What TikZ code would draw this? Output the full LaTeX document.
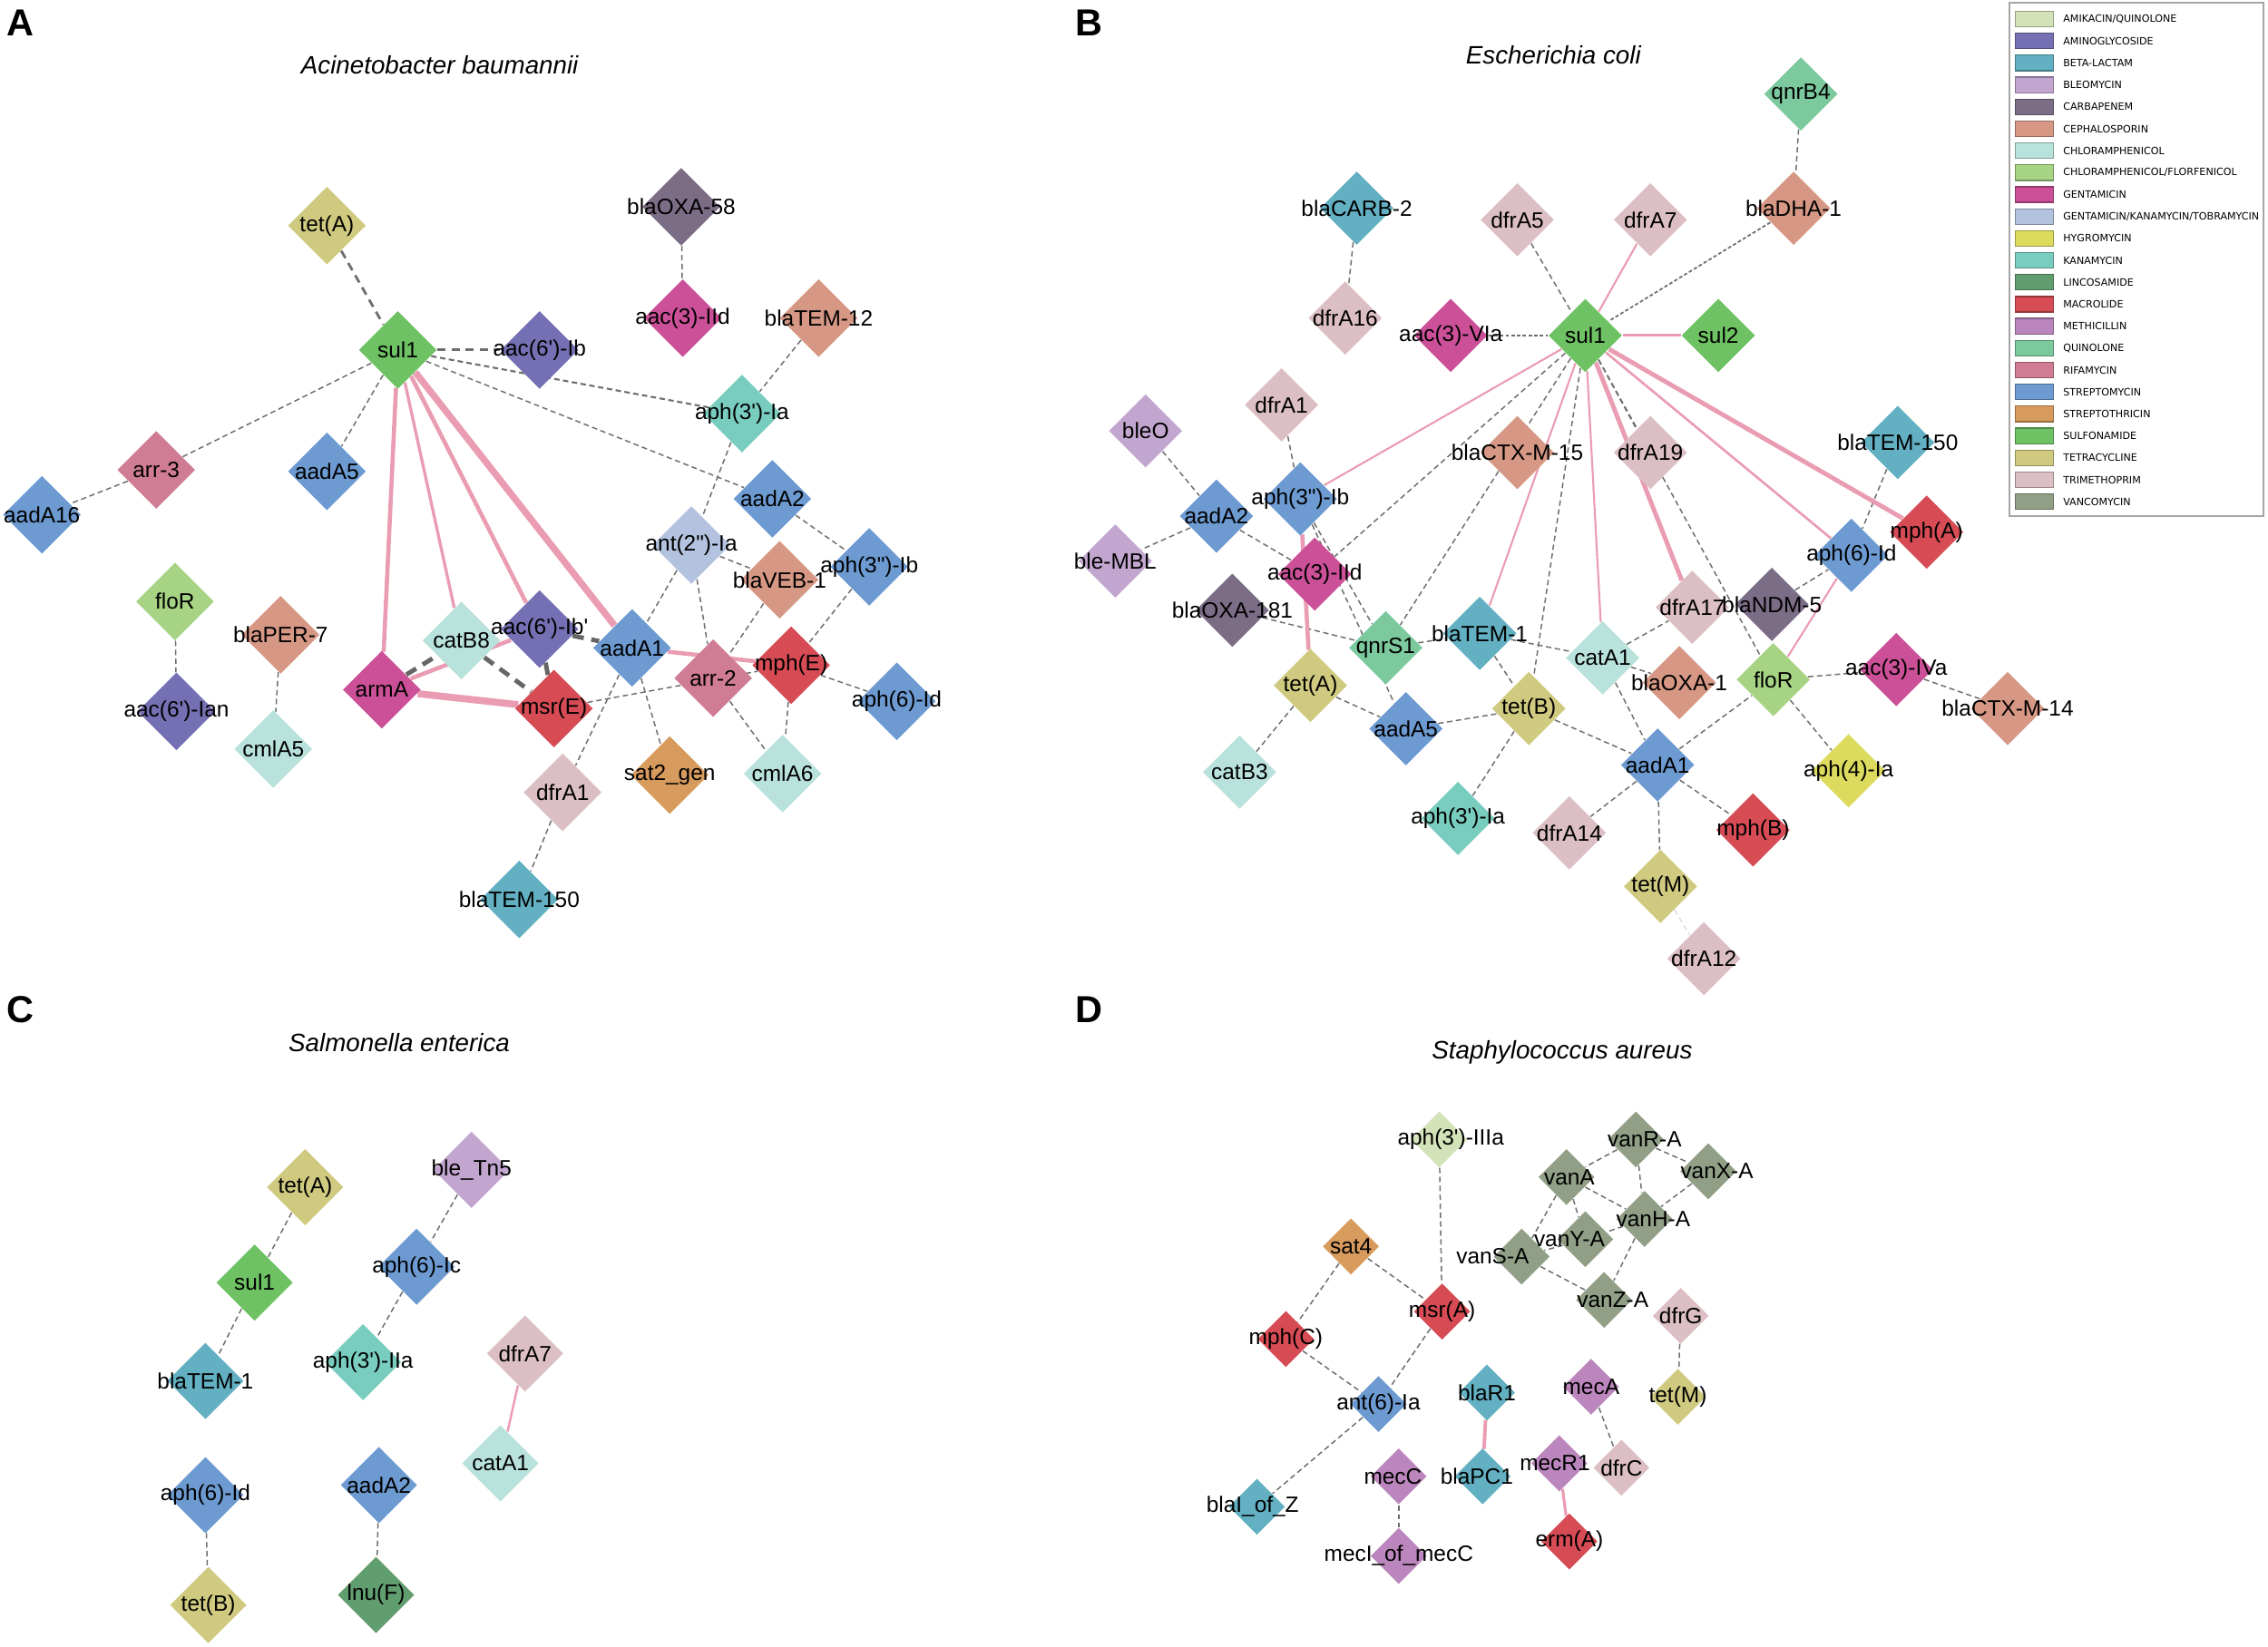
\documentclass[tikz,border=0pt]{standalone}
\usepackage{fontspec}
\setmainfont{Liberation Sans}
\newfontfamily\labfam{Liberation Sans}
\newfontfamily\legfam{DejaVu Sans}
\usetikzlibrary{shapes.geometric}
\pgfdeclarelayer{bg}
\pgfdeclarelayer{fg}
\pgfsetlayers{bg,main,fg}
\definecolor{AMIKQ}{HTML}{D3E2B8}
\definecolor{AMINO}{HTML}{7570B3}
\definecolor{BETA}{HTML}{62B0C2}
\definecolor{BLEO}{HTML}{C3A6D0}
\definecolor{CARB}{HTML}{7B6D86}
\definecolor{CEPH}{HTML}{D69885}
\definecolor{CHLOR}{HTML}{B8E2DB}
\definecolor{CHLFLOR}{HTML}{A6D384}
\definecolor{GENT}{HTML}{CC5098}
\definecolor{GKT}{HTML}{B3C2DE}
\definecolor{HYG}{HTML}{DCDB5E}
\definecolor{KANA}{HTML}{79CDBF}
\definecolor{LINC}{HTML}{619E6F}
\definecolor{MACRO}{HTML}{D64B54}
\definecolor{METH}{HTML}{BB86BD}
\definecolor{QUIN}{HTML}{7BC99C}
\definecolor{RIF}{HTML}{CF7C94}
\definecolor{STREP}{HTML}{6C9AD1}
\definecolor{STRTH}{HTML}{D89B5E}
\definecolor{SULF}{HTML}{6EC264}
\definecolor{TET}{HTML}{CFCA7F}
\definecolor{TRI}{HTML}{DCBFC4}
\definecolor{VANC}{HTML}{919F87}
\definecolor{dgray}{HTML}{6E6E6E}
\definecolor{pinkc}{HTML}{EA9CB2}
\newlength\labw
\newcommand\labfont{\labfam\fontsize{6.95pt}{8pt}\selectfont}
\newcommand\gn[7]{%
  \node[#1, fill=#5] (#2) at (#3,#4) {};%
  \settowidth\labw{\labfont #6}%
  \begin{pgfonlayer}{fg}%
    \node[lab, xshift={0.14*\labw+(#7)*0.015944cm}] (#2-l) at (#2.center) {#6};%
  \end{pgfonlayer}}
\newcommand\legent[3]{%
  \node[legsw, fill=#2, draw=#2!70!black] (leg#1) at (1406.5,{13.2+15.17*#1}) {};%
  \node[legtx] (legt#1) at (1426,{13.2+15.17*#1}) {#3};}
\begin{document}
\begin{tikzpicture}[x=0.015944cm, y=-0.015944cm,
  diaA/.style={diamond, minimum width=0.861cm, minimum height=0.861cm, inner sep=0pt, draw=none},
  diaB/.style={diamond, minimum width=0.813cm, minimum height=0.813cm, inner sep=0pt, draw=none},
  diaC/.style={diamond, minimum width=0.845cm, minimum height=0.845cm, inner sep=0pt, draw=none},
  diaD/.style={diamond, minimum width=0.622cm, minimum height=0.622cm, inner sep=0pt, draw=none},
  lab/.style={font=\labfont, inner sep=0pt, anchor=center, text=black},
  dl/.style={draw=dgray, line width=0.42pt, dash pattern=on 1.7pt off 1.1pt},
  dld/.style={draw=dgray, line width=0.5pt, dash pattern=on 1.1pt off 0.7pt},
  dlm/.style={draw=dgray, line width=0.8pt, dash pattern=on 2.6pt off 1.8pt},
  dlt/.style={draw=gray!80!black, line width=1.4pt, dash pattern=on 3.6pt off 2.4pt},
  glt/.style={draw=gray!80!black, line width=1.4pt},
  pk/.style={draw=pinkc, line width=0.6pt},
  pkm/.style={draw=pinkc, line width=1.3pt},
  pkt/.style={draw=pinkc, line width=2.1pt},
  ttl/.style={font=\labfam\itshape\fontsize{7.9pt}{9pt}\selectfont, inner sep=0pt},
  plet/.style={font=\labfam\bfseries\fontsize{11.8pt}{13pt}\selectfont, inner sep=0pt},
  legsw/.style={rectangle, minimum width=0.415cm, minimum height=0.171cm, inner sep=0pt, line width=0.35pt},
  legtx/.style={anchor=west, inner sep=0pt, font=\legfam\fontsize{3.16pt}{4pt}\selectfont}]
\useasboundingbox (0,0) rectangle (1568,1139);
\begin{pgfonlayer}{bg}
\fill[white] (0,0) rectangle (1568,1139);
\end{pgfonlayer}

% panel letters and titles
\node[plet] (pA) at (14,16) {A};
\node[plet] (pB) at (753,16) {B};
\node[plet] (pC) at (14,698) {C};
\node[plet] (pD) at (753,698) {D};
\node[ttl] (tA) at (304,45) {Acinetobacter baumannii};
\node[ttl] (tB) at (1074,38) {Escherichia coli};
\node[ttl] (tC) at (276,721) {Salmonella enterica};
\node[ttl] (tD) at (1080,728) {Staphylococcus aureus};

% ---------------- Panel A ----------------
\gn{diaA}{tetAA}{226}{156}{TET}{tet(A)}{0}
\gn{diaA}{blaOXAa}{471}{143}{CARB}{blaOXA-58}{0}
\gn{diaA}{aacIIdA}{472}{220}{GENT}{aac(3)-IId}{0}
\gn{diaA}{blaTEMtw}{566}{220}{CEPH}{blaTEM-12}{0}
\gn{diaA}{sulA}{275}{242}{SULF}{sul1}{0}
\gn{diaA}{aacIb}{373}{242}{AMINO}{aac(6')-Ib}{0}
\gn{diaA}{aphIaA}{513}{286}{KANA}{aph(3')-Ia}{0}
\gn{diaA}{arrthree}{108}{325}{RIF}{arr-3}{0}
\gn{diaA}{aadFiveA}{226}{326}{STREP}{aadA5}{0}
\gn{diaA}{aadSixteen}{29}{356}{STREP}{aadA16}{0}
\gn{diaA}{aadTwoA}{534}{345}{STREP}{aadA2}{0}
\gn{diaA}{antIa}{478}{377}{GKT}{ant(2")-Ia}{0}
\gn{diaA}{aphIbA}{601}{392}{STREP}{aph(3")-Ib}{0}
\gn{diaA}{blaVEB}{539}{401}{CEPH}{blaVEB-1}{0}
\gn{diaA}{floRA}{121}{416}{CHLFLOR}{floR}{0}
\gn{diaA}{blaPER}{194}{439}{CEPH}{blaPER-7}{0}
\gn{diaA}{catBeight}{319}{443}{CHLOR}{catB8}{0}
\gn{diaA}{aacIbp}{373}{435}{AMINO}{aac(6')-Ib'}{0}
\gn{diaA}{aadOneA}{437}{448}{STREP}{aadA1}{0}
\gn{diaA}{armA}{264}{477}{GENT}{armA}{0}
\gn{diaA}{msrE}{383}{490}{MACRO}{msr(E)}{0}
\gn{diaA}{arrtwo}{493}{469}{RIF}{arr-2}{0}
\gn{diaA}{mphE}{547}{460}{MACRO}{mph(E)}{0}
\gn{diaA}{aphIdA}{620}{485}{STREP}{aph(6)-Id}{0}
\gn{diaA}{aacIan}{122}{492}{AMINO}{aac(6')-Ian}{0}
\gn{diaA}{cmlFive}{189}{518}{CHLOR}{cmlA5}{0}
\gn{diaA}{satgen}{463}{536}{STRTH}{sat2\_gen}{0}
\gn{diaA}{cmlSix}{541}{535}{CHLOR}{cmlA6}{0}
\gn{diaA}{dfrOneA}{389}{548}{TRI}{dfrA1}{0}
\gn{diaA}{blaTEMfA}{359}{622}{BETA}{blaTEM-150}{0}

% ---------------- Panel B ----------------
\gn{diaB}{qnrBfour}{1245}{65}{QUIN}{qnrB4}{0}
\gn{diaB}{blaCARB}{938}{144}{BETA}{blaCARB-2}{0}
\gn{diaB}{dfrFive}{1049}{152}{TRI}{dfrA5}{0}
\gn{diaB}{dfrSevenB}{1141}{152}{TRI}{dfrA7}{0}
\gn{diaB}{blaDHA}{1240}{144}{CEPH}{blaDHA-1}{0}
\gn{diaB}{dfrSixteen}{930}{220}{TRI}{dfrA16}{0}
\gn{diaB}{aacVIa}{1003}{232}{GENT}{aac(3)-VIa}{0}
\gn{diaB}{sulB}{1096}{232}{SULF}{sul1}{0}
\gn{diaB}{sultwo}{1188}{232}{SULF}{sul2}{0}
\gn{diaB}{dfrOneB}{886}{280}{TRI}{dfrA1}{0}
\gn{diaB}{bleO}{792}{298}{BLEO}{bleO}{0}
\gn{diaB}{blaCTXf}{1049}{313}{CEPH}{blaCTX-M-15}{0}
\gn{diaB}{dfrNineteen}{1141}{313}{TRI}{dfrA19}{0}
\gn{diaB}{blaTEMfB}{1312}{306}{BETA}{blaTEM-150}{0}
\gn{diaB}{aadTwoB}{841}{357}{STREP}{aadA2}{0}
\gn{diaB}{aphIbB}{899}{345}{STREP}{aph(3")-Ib}{0}
\gn{diaB}{mphA}{1332}{368}{MACRO}{mph(A)}{0}
\gn{diaB}{bleMBL}{771}{388}{BLEO}{ble-MBL}{0}
\gn{diaB}{aacIIdB}{909}{397}{GENT}{aac(3)-IId}{0}
\gn{diaB}{aphIdB}{1280}{384}{STREP}{aph(6)-Id}{0}
\gn{diaB}{blaOXAe}{852}{422}{CARB}{blaOXA-181}{0}
\gn{diaB}{dfrSeventeen}{1170}{420}{TRI}{dfrA17}{0}
\gn{diaB}{blaNDM}{1225}{418}{CARB}{blaNDM-5}{0}
\gn{diaB}{qnrSone}{958}{448}{QUIN}{qnrS1}{0}
\gn{diaB}{blaTEMoneB}{1023}{438}{BETA}{blaTEM-1}{0}
\gn{diaB}{catAoneB}{1108}{455}{CHLOR}{catA1}{0}
\gn{diaB}{blaOXAone}{1161}{472}{CEPH}{blaOXA-1}{0}
\gn{diaB}{floRB}{1226}{470}{CHLFLOR}{floR}{0}
\gn{diaB}{aacIVa}{1311}{463}{GENT}{aac(3)-IVa}{0}
\gn{diaB}{blaCTXft}{1388}{490}{CEPH}{blaCTX-M-14}{0}
\gn{diaB}{tetAB}{906}{474}{TET}{tet(A)}{0}
\gn{diaB}{tetBB}{1057}{490}{TET}{tet(B)}{0}
\gn{diaB}{aadFiveB}{972}{504}{STREP}{aadA5}{0}
\gn{diaB}{catBthree}{857}{534}{CHLOR}{catB3}{0}
\gn{diaB}{aadOneB}{1146}{529}{STREP}{aadA1}{0}
\gn{diaB}{aphFourIa}{1278}{533}{HYG}{aph(4)-Ia}{0}
\gn{diaB}{aphIaB}{1008}{566}{KANA}{aph(3')-Ia}{0}
\gn{diaB}{dfrFourteen}{1085}{576}{TRI}{dfrA14}{0}
\gn{diaB}{mphB}{1212}{574}{MACRO}{mph(B)}{0}
\gn{diaB}{tetMB}{1148}{613}{TET}{tet(M)}{0}
\gn{diaB}{dfrTwelve}{1178}{663}{TRI}{dfrA12}{0}

% ---------------- Panel C ----------------
\gn{diaC}{tetAC}{211}{821}{TET}{tet(A)}{0}
\gn{diaC}{bleTn}{326}{809}{BLEO}{ble\_Tn5}{0}
\gn{diaC}{sulC}{176}{887}{SULF}{sul1}{0}
\gn{diaC}{aphIc}{288}{876}{STREP}{aph(6)-Ic}{0}
\gn{diaC}{blaTEMoneC}{142}{955}{BETA}{blaTEM-1}{0}
\gn{diaC}{aphIIa}{251}{942}{KANA}{aph(3')-IIa}{0}
\gn{diaC}{dfrSevenC}{363}{936}{TRI}{dfrA7}{0}
\gn{diaC}{catAoneC}{346}{1012}{CHLOR}{catA1}{0}
\gn{diaC}{aphIdC}{142}{1034}{STREP}{aph(6)-Id}{0}
\gn{diaC}{aadTwoC}{262}{1027}{STREP}{aadA2}{0}
\gn{diaC}{tetBC}{144}{1110}{TET}{tet(B)}{0}
\gn{diaC}{lnuF}{260}{1103}{LINC}{lnu(F)}{0}

% ---------------- Panel D ----------------
\gn{diaD}{aphIIIa}{995}{788}{AMIKQ}{aph(3')-IIIa}{8}
\gn{diaD}{vanRA}{1131}{788}{VANC}{vanR-A}{6}
\gn{diaD}{vanXA}{1181}{810}{VANC}{vanX-A}{6}
\gn{diaD}{vanA}{1083}{814}{VANC}{vanA}{2}
\gn{diaD}{vanHA}{1137}{843}{VANC}{vanH-A}{6}
\gn{diaD}{vanYA}{1096}{857}{VANC}{vanY-A}{-11}
\gn{diaD}{vanSA}{1052}{869}{VANC}{vanS-A}{-20}
\gn{diaD}{satfour}{934}{862}{STRTH}{sat4}{0}
\gn{diaD}{vanZA}{1109}{899}{VANC}{vanZ-A}{6}
\gn{diaD}{dfrG}{1162}{910}{TRI}{dfrG}{0}
\gn{diaD}{msrA}{997}{907}{MACRO}{msr(A)}{0}
\gn{diaD}{mphC}{889}{926}{MACRO}{mph(C)}{0}
\gn{diaD}{antSixIa}{953}{971}{STREP}{ant(6)-Ia}{0}
\gn{diaD}{blaRone}{1028}{963}{BETA}{blaR1}{0}
\gn{diaD}{mecA}{1100}{959}{METH}{mecA}{0}
\gn{diaD}{tetMD}{1160}{966}{TET}{tet(M)}{0}
\gn{diaD}{mecRone}{1078}{1012}{METH}{mecR1}{-3}
\gn{diaD}{dfrC}{1121}{1015}{TRI}{dfrC}{0}
\gn{diaD}{mecC}{967}{1021}{METH}{mecC}{-4}
\gn{diaD}{blaPCone}{1025}{1021}{BETA}{blaPC1}{-4}
\gn{diaD}{blaIofZ}{869}{1042}{BETA}{blaI\_of\_Z}{-3}
\gn{diaD}{mecIofC}{967}{1076}{METH}{mecI\_of\_mecC}{0}
\gn{diaD}{ermA}{1085}{1066}{MACRO}{erm(A)}{0}

% ---------------- Edges ----------------
\begin{pgfonlayer}{bg}
% A
\draw[dlm] (tetAA) -- (sulA);
\draw[dlm] (sulA) -- (aacIb);
\draw[dl, line width=0.6pt] (sulA) -- (aphIaA);
\draw[dl] (sulA) -- (aadTwoA);
\draw[dl] (sulA) -- (arrthree);
\draw[dl] (sulA) -- (aadFiveA);
\draw[dl] (arrthree) -- (aadSixteen);
\draw[dl] (blaOXAa) -- (aacIIdA);
\draw[dl] (blaTEMtw) -- (aphIaA);
\draw[dl] (aphIaA) -- (antIa);
\draw[dl] (aadTwoA) -- (aphIbA);
\draw[dl] (antIa) -- (blaVEB);
\draw[dl] (antIa) -- (aadOneA);
\draw[dl] (antIa) -- (arrtwo);
\draw[dl] (blaVEB) -- (arrtwo);
\draw[dl] (aphIbA) -- (mphE);
\draw[dl] (mphE) -- (aphIdA);
\draw[dl] (mphE) -- (cmlSix);
\draw[dl] (arrtwo) -- (cmlSix);
\draw[dl] (aadOneA) -- (satgen);
\draw[dl] (aadOneA) -- (dfrOneA);
\draw[dl] (dfrOneA) -- (blaTEMfA);
\draw[dl] (msrE) -- (mphE);
\draw[dl] (floRA) -- (aacIan);
\draw[dl] (blaPER) -- (cmlFive);
\draw[dlt] (armA) -- (catBeight);
\draw[dlt] (catBeight) -- (msrE);
\draw[dlt] (aacIbp) -- (aadOneA);
\draw[glt] (aacIbp) -- (msrE);
\draw[pkm] (sulA) -- (armA);
\draw[pk, line width=0.95pt] (sulA) -- (catBeight);
\draw[pkm] (sulA) -- (aacIbp);
\draw[pkt] (sulA) -- (aadOneA);
\draw[pkm] (armA) -- (aacIbp);
\draw[pkt, line width=2.2pt] (armA) -- (msrE);
\draw[pkm] (aadOneA) -- (mphE);
% B
\draw[dl] (blaCARB) -- (dfrSixteen);
\draw[dl] (qnrBfour) -- (blaDHA);
\draw[dl] (dfrFive) -- (sulB);
\draw[dld] (blaDHA) -- (sulB);
\draw[dld] (aacVIa) -- (sulB);
\draw[dl] (sulB) -- (aacIIdB);
\draw[dl] (sulB) -- (qnrSone);
\draw[dl] (sulB) -- (tetBB);
\draw[dl] (sulB) -- (dfrNineteen);
\draw[dl] (sulB) -- (floRB);
\draw[dl] (dfrOneB) -- (aphIbB);
\draw[dl] (bleO) -- (aadTwoB);
\draw[dl] (aadTwoB) -- (bleMBL);
\draw[dl] (aadTwoB) -- (aacIIdB);
\draw[dl] (aphIbB) -- (qnrSone);
\draw[dl] (aphIbB) -- (aadFiveB);
\draw[dl] (blaOXAe) -- (qnrSone);
\draw[dl] (qnrSone) -- (blaTEMoneB);
\draw[dl] (blaTEMoneB) -- (catAoneB);
\draw[dl] (blaTEMoneB) -- (tetBB);
\draw[dl] (catAoneB) -- (dfrSeventeen);
\draw[dl] (catAoneB) -- (blaOXAone);
\draw[dl] (catAoneB) -- (aadOneB);
\draw[dl] (tetAB) -- (aadFiveB);
\draw[dl] (tetAB) -- (catBthree);
\draw[dl] (aadFiveB) -- (tetBB);
\draw[dl] (tetBB) -- (aphIaB);
\draw[dl] (tetBB) -- (aadOneB);
\draw[dl] (aadOneB) -- (floRB);
\draw[dl] (aadOneB) -- (dfrFourteen);
\draw[dl] (aadOneB) -- (mphB);
\draw[dl] (aadOneB) -- (tetMB);
\draw[dl, draw=gray!25] (tetMB) -- (dfrTwelve);
\draw[dl] (floRB) -- (aacIVa);
\draw[dl] (aacIVa) -- (blaCTXft);
\draw[dl] (floRB) -- (aphFourIa);
\draw[dl] (blaNDM) -- (aphIdB);
\draw[dl] (blaTEMfB) -- (aphIdB);
\draw[pk] (dfrSevenB) -- (sulB);
\draw[pk, line width=0.9pt] (sulB) -- (sultwo);
\draw[pk] (sulB) -- (aphIbB);
\draw[pk] (sulB) -- (blaTEMoneB);
\draw[pk] (sulB) -- (catAoneB);
\draw[pkt, line width=1.4pt] (sulB) -- (dfrSeventeen);
\draw[pk, line width=0.75pt] (sulB) -- (aphIdB);
\draw[pkt, line width=1.4pt] (sulB) -- (mphA);
\draw[pkt, line width=1.3pt] (aphIbB) -- (tetAB);
\draw[pk] (aphIdB) -- (floRB);
% C
\draw[dl] (tetAC) -- (sulC);
\draw[dl] (sulC) -- (blaTEMoneC);
\draw[dl] (bleTn) -- (aphIc);
\draw[dl] (aphIc) -- (aphIIa);
\draw[dl] (aphIdC) -- (tetBC);
\draw[dl] (aadTwoC) -- (lnuF);
\draw[pk, line width=0.7pt] (dfrSevenC) -- (catAoneC);
% D
\draw[dl] (aphIIIa) -- (msrA);
\draw[dl] (satfour) -- (mphC);
\draw[dl] (satfour) -- (msrA);
\draw[dl] (mphC) -- (antSixIa);
\draw[dl] (msrA) -- (antSixIa);
\draw[dl] (antSixIa) -- (blaIofZ);
\draw[dl] (mecA) -- (dfrC);
\draw[dl] (mecC) -- (mecIofC);
\draw[dl] (dfrG) -- (tetMD);
\draw[dl] (vanRA) -- (vanA);
\draw[dl] (vanRA) -- (vanXA);
\draw[dl] (vanRA) -- (vanHA);
\draw[dl] (vanA) -- (vanHA);
\draw[dl] (vanA) -- (vanYA);
\draw[dl] (vanA) -- (vanSA);
\draw[dl] (vanXA) -- (vanHA);
\draw[dl] (vanHA) -- (vanYA);
\draw[dl] (vanHA) -- (vanZA);
\draw[dl] (vanYA) -- (vanSA);
\draw[dl] (vanSA) -- (vanZA);
\draw[pk, line width=1.1pt] (blaRone) -- (blaPCone);
\draw[pk, line width=0.9pt] (mecRone) -- (ermA);
\end{pgfonlayer}

% ---------------- Legend ----------------
\draw[draw=gray!70, line width=0.5pt] (1389,2) rectangle (1565,357);
\legent{0}{AMIKQ}{AMIKACIN/QUINOLONE}
\legent{1}{AMINO}{AMINOGLYCOSIDE}
\legent{2}{BETA}{BETA-LACTAM}
\legent{3}{BLEO}{BLEOMYCIN}
\legent{4}{CARB}{CARBAPENEM}
\legent{5}{CEPH}{CEPHALOSPORIN}
\legent{6}{CHLOR}{CHLORAMPHENICOL}
\legent{7}{CHLFLOR}{CHLORAMPHENICOL/FLORFENICOL}
\legent{8}{GENT}{GENTAMICIN}
\legent{9}{GKT}{GENTAMICIN/KANAMYCIN/TOBRAMYCIN}
\legent{10}{HYG}{HYGROMYCIN}
\legent{11}{KANA}{KANAMYCIN}
\legent{12}{LINC}{LINCOSAMIDE}
\legent{13}{MACRO}{MACROLIDE}
\legent{14}{METH}{METHICILLIN}
\legent{15}{QUIN}{QUINOLONE}
\legent{16}{RIF}{RIFAMYCIN}
\legent{17}{STREP}{STREPTOMYCIN}
\legent{18}{STRTH}{STREPTOTHRICIN}
\legent{19}{SULF}{SULFONAMIDE}
\legent{20}{TET}{TETRACYCLINE}
\legent{21}{TRI}{TRIMETHOPRIM}
\legent{22}{VANC}{VANCOMYCIN}
\end{tikzpicture}
\end{document}
